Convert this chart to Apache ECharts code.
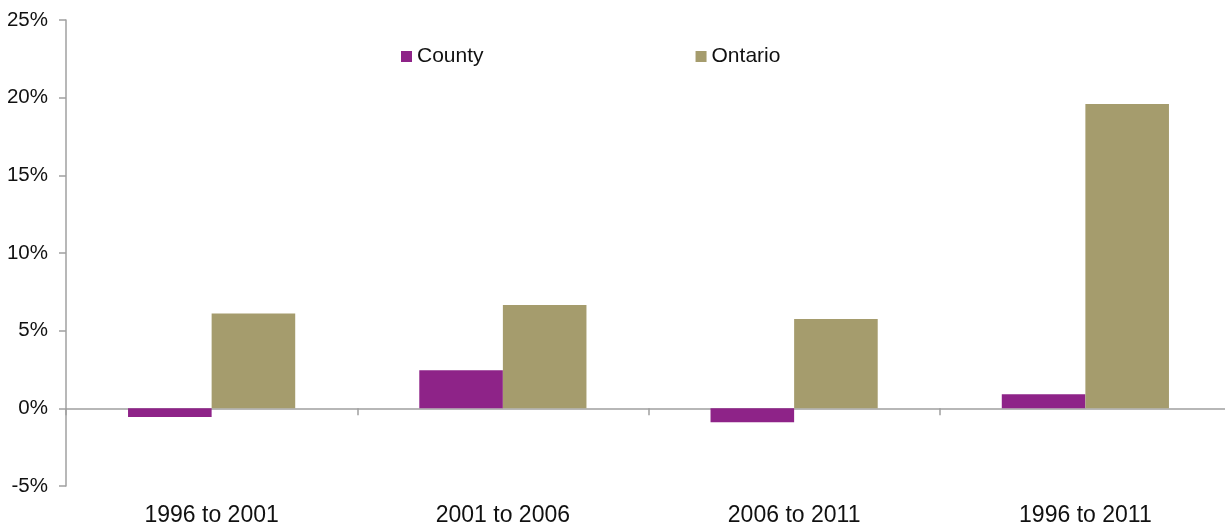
<!DOCTYPE html>
<html><head><meta charset="utf-8">
<script src="https://cdn.jsdelivr.net/npm/echarts@6/dist/echarts.min.js"></script>
<style>html,body{margin:0;padding:0;background:#fff}#c{width:1225px;height:525px}</style>
</head><body><div id="c"></div>
<script>
var categories = ['1996 to 2001', '2001 to 2006', '2006 to 2011', '1996 to 2011'];
var countyValues = [-0.55, 2.45, -0.9, 0.9];
var ontarioValues = [6.1, 6.65, 5.75, 19.6];
var seriesNames = ['County', 'Ontario'];
var yTicks = {min: -5, max: 25, interval: 5};

var chart = echarts.init(document.getElementById('c'));
var font = '"Liberation Sans", Arial, sans-serif';
chart.setOption({
  animation: false,
  textStyle: {fontFamily: font},
  legend: {
    data: seriesNames, left: 396, top: 41, itemWidth: 11, itemHeight: 11, itemGap: 212,
    icon: 'rect', textStyle: {fontSize: 21, color: '#111', fontFamily: font}
  },
  grid: {left: 66, right: -6, top: 20, bottom: 39, containLabel: false, outerBoundsMode: 'none'},
  xAxis: [{
    type: 'category', data: categories, boundaryGap: true,
    axisLine: {onZero: true, lineStyle: {color: '#a0a0a0', width: 1.5}},
    axisTick: {show: true, length: 7, inside: false, lineStyle: {color: '#a0a0a0', width: 1.5}},
    axisLabel: {show: false}
  }, {
    type: 'category', data: categories, position: 'bottom',
    axisLine: {show: false}, axisTick: {show: false},
    axisLabel: {fontSize: 23, color: '#111', margin: 18, fontFamily: font}
  }],
  yAxis: {
    type: 'value', min: yTicks.min, max: yTicks.max, interval: yTicks.interval,
    axisLine: {show: true, lineStyle: {color: '#a0a0a0', width: 1.5}},
    axisTick: {show: true, length: 7, lineStyle: {color: '#a0a0a0', width: 1.5}},
    splitLine: {show: false},
    axisLabel: {formatter: '{value}%', fontSize: 20.5, color: '#111', margin: 18, fontFamily: font}
  },
  series: [
    {name: seriesNames[0], type: 'bar', data: countyValues, xAxisIndex: 0, barWidth: '28.7%', barGap: '0%',
     itemStyle: {color: '#8E2388'}},
    {name: seriesNames[1], type: 'bar', data: ontarioValues, xAxisIndex: 0, barWidth: '28.7%', barGap: '0%',
     itemStyle: {color: '#A59C6D'}}
  ]
});
</script></body></html>
